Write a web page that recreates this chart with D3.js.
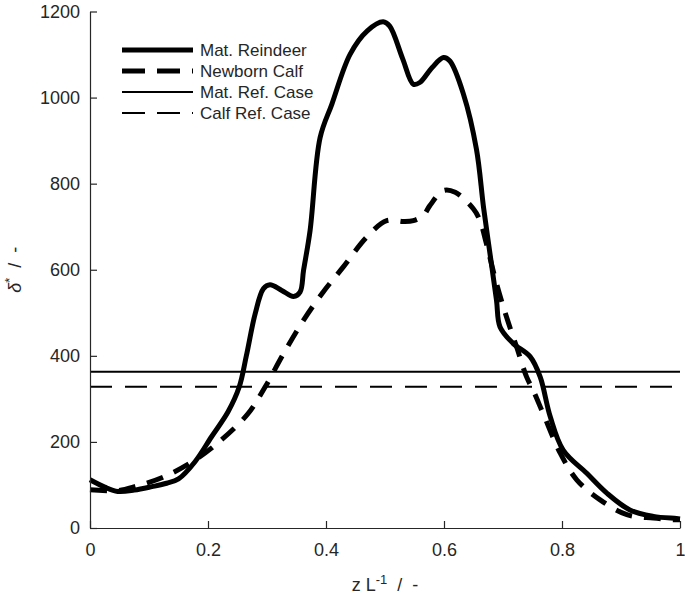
<!DOCTYPE html>
<html>
<head>
<meta charset="utf-8">
<script src="https://cdn.jsdelivr.net/npm/d3@7"></script>
<style>
  body { margin: 0; background: #fff; }
  text { font-family: Arial, "Liberation Sans", Helvetica, sans-serif; fill: #262626; }
</style>
</head>
<body>
<div id="chart"></div>
<script>
var reindeerX = [0, 0.025, 0.047, 0.075, 0.105, 0.13, 0.15, 0.178, 0.206, 0.234, 0.253, 0.265, 0.28, 0.294, 0.305, 0.325, 0.345, 0.356, 0.362, 0.373, 0.39, 0.41, 0.441, 0.47, 0.497, 0.508, 0.53, 0.548, 0.559, 0.58, 0.599, 0.61, 0.633, 0.655, 0.667, 0.678, 0.689, 0.695, 0.717, 0.746, 0.763, 0.78, 0.802, 0.842, 0.876, 0.915, 0.955, 0.994, 1];
var reindeerY = [112, 95, 85, 88, 96, 104, 114, 154, 212, 270, 328, 400, 498, 556, 565, 552, 538, 548, 599, 691, 907, 985, 1101, 1155, 1176, 1166, 1090, 1031, 1035, 1070, 1093, 1085, 1008, 880, 745, 637, 529, 467, 429, 398, 351, 259, 181, 127, 81, 42, 27, 22, 21];

var calfX = [0, 0.047, 0.076, 0.127, 0.178, 0.223, 0.268, 0.297, 0.328, 0.362, 0.395, 0.429, 0.469, 0.503, 0.531, 0.548, 0.565, 0.576, 0.599, 0.619, 0.65, 0.661, 0.672, 0.689, 0.706, 0.723, 0.74, 0.751, 0.768, 0.797, 0.825, 0.864, 0.91, 0.955, 0.994, 1];
var calfY = [89, 87, 96, 120, 158, 205, 266, 328, 405, 483, 548, 606, 676, 714, 712, 714, 726, 749, 784, 780, 741, 714, 660, 568, 490, 421, 351, 320, 266, 174, 112, 66, 31, 23, 19, 19];

var matRef = 363;
var calfRef = 328;

var xTicks = [0, 0.2, 0.4, 0.6, 0.8, 1];
var xTickLabels = ["0", "0.2", "0.4", "0.6", "0.8", "1"];
var yTicks = [0, 200, 400, 600, 800, 1000, 1200];

var legendNames = ["Mat. Reindeer", "Newborn Calf", "Mat. Ref. Case", "Calf Ref. Case"];

var W = 685, H = 597;
var margin = { top: 11.5, right: 5, bottom: 69, left: 90 };
var width = W - margin.left - margin.right;
var height = H - margin.top - margin.bottom;

var svg = d3.select("#chart").append("svg")
  .attr("width", W)
  .attr("height", H);

var g = svg.append("g")
  .attr("transform", "translate(" + margin.left + "," + margin.top + ")");

var x = d3.scaleLinear().domain([0, 1]).range([0, width]);
var y = d3.scaleLinear().domain([0, 1200]).range([height, 0]);

// styles for each series
var styles = [
  { w: 5, dash: null },
  { w: 5, dash: "17,12" },
  { w: 2, dash: null },
  { w: 2, dash: "22,13" }
];

var line = d3.line()
  .x(function(d) { return x(d[0]); })
  .y(function(d) { return y(d[1]); })
  .curve(d3.curveCatmullRom.alpha(0.5));

var reindeer = reindeerX.map(function(v, i) { return [v, reindeerY[i]]; });
var calf = calfX.map(function(v, i) { return [v, calfY[i]]; });

// reference lines
[matRef, calfRef].forEach(function(v, i) {
  var s = styles[i + 2];
  g.append("line")
    .attr("x1", x(0)).attr("x2", x(1))
    .attr("y1", y(v)).attr("y2", y(v))
    .attr("stroke", "#000")
    .attr("stroke-width", s.w)
    .attr("stroke-dasharray", s.dash);
});

[reindeer, calf].forEach(function(data, i) {
  var s = styles[i];
  g.append("path")
    .datum(data)
    .attr("fill", "none")
    .attr("stroke", "#000")
    .attr("stroke-width", s.w)
    .attr("stroke-linejoin", "round")
    .attr("stroke-dasharray", s.dash)
    .attr("d", line);
});

// axes, ticks point inward
var xAxis = g.append("g")
  .attr("transform", "translate(0," + height + ")")
  .call(d3.axisBottom(x).tickValues(xTicks)
    .tickFormat(function(d, i) { return xTickLabels[i]; })
    .tickSizeInner(-7).tickSizeOuter(0).tickPadding(15));

var yAxis = g.append("g")
  .call(d3.axisLeft(y).tickValues(yTicks)
    .tickFormat(d3.format("d"))
    .tickSizeInner(-7).tickSizeOuter(0).tickPadding(10));

[xAxis, yAxis].forEach(function(a) {
  a.select(".domain").attr("stroke", "#262626").attr("stroke-width", 1.2);
  a.selectAll(".tick line").attr("stroke", "#262626").attr("stroke-width", 1.2);
  a.selectAll(".tick text")
    .style("font-size", "18px")
    .style("font-family", "Arial, 'Liberation Sans', sans-serif")
    .attr("fill", "#262626");
});

// axis labels
var xl = svg.append("text")
  .attr("x", margin.left + width / 2)
  .attr("y", 591)
  .attr("text-anchor", "middle")
  .style("font-size", "18px");
xl.append("tspan").text("z L");
xl.append("tspan").attr("dy", -7).style("font-size", "13px").text("-1");
xl.append("tspan").attr("dy", 7).attr("xml:space", "preserve").text("  /  -");

var yl = svg.append("text")
  .attr("transform", "translate(21," + (margin.top + height / 2) + ") rotate(-90)")
  .attr("text-anchor", "middle")
  .style("font-size", "18px");
yl.append("tspan").style("font-style", "italic").text("δ");
yl.append("tspan").attr("dy", -7).style("font-size", "13px").text("*");
yl.append("tspan").attr("dy", 7).attr("xml:space", "preserve").text("  /  -");

// legend
var legend = svg.append("g").attr("transform", "translate(122,50)");
legendNames.forEach(function(name, i) {
  var s = styles[i];
  var row = legend.append("g").attr("transform", "translate(0," + (i * 21) + ")");
  row.append("line")
    .attr("x1", 0).attr("x2", 71)
    .attr("stroke", "#000")
    .attr("stroke-width", s.w)
    .attr("stroke-dasharray", s.dash ? "23,12" : null);
  row.append("text")
    .attr("x", 78)
    .attr("dy", "0.35em")
    .style("font-size", "17px")
    .attr("fill", "#000")
    .text(name);
});
</script>
</body>
</html>
